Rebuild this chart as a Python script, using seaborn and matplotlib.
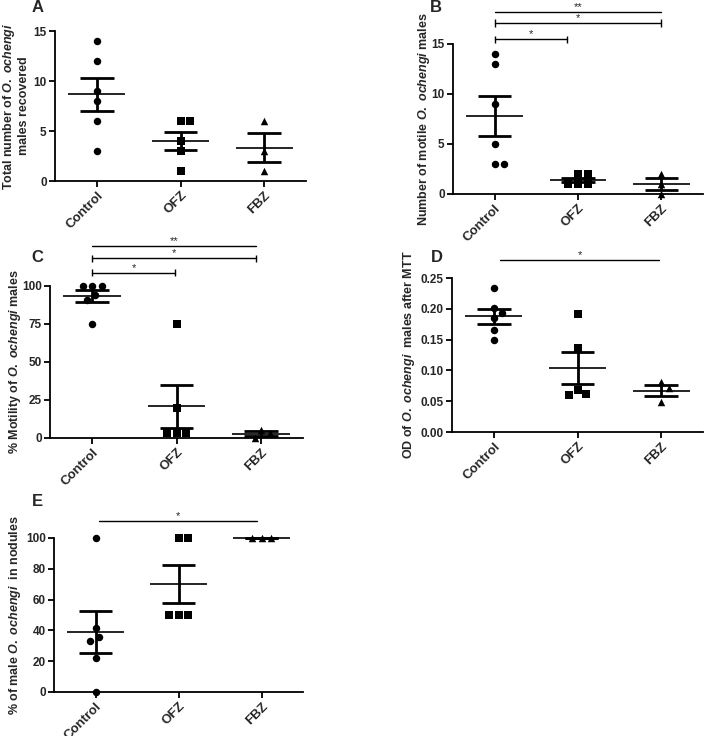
import matplotlib
matplotlib.use("Agg")
import matplotlib.pyplot as plt
import numpy as np
import pandas as pd
import seaborn as sns

sns.set_style("ticks")
plt.rcParams["font.family"] = ["Liberation Sans", "DejaVu Sans"]
plt.rcParams["font.weight"] = "bold"
plt.rcParams["mathtext.fontset"] = "custom"
plt.rcParams["mathtext.rm"] = "Liberation Sans:bold"
plt.rcParams["mathtext.it"] = "Liberation Sans:italic:bold"
plt.rcParams["mathtext.bf"] = "Liberation Sans:bold"

groups = ["Control", "OFZ", "FBZ"]
markers = ["o", "s", "^"]

# A: total number of males recovered
total_control = [14, 12, 9, 8, 6, 3]
total_ofz = [6, 6, 4, 3, 1]
total_fbz = [6, 3, 1]

# B: number of motile males
motile_control = [14, 13, 9, 5, 3, 3]
motile_ofz = [2, 2, 1, 1, 1]
motile_fbz = [2, 1, 0]

# C: % motility
motility_control = [100, 100, 100, 94, 91, 75]
motility_ofz = [75, 20, 3, 3, 3]
motility_fbz = [5, 3.5, 0]

# D: OD after MTT
od_control = [0.233, 0.201, 0.193, 0.185, 0.166, 0.149]
od_ofz = [0.191, 0.137, 0.068, 0.060, 0.062]
od_fbz = [0.081, 0.072, 0.049]

# E: % of males in nodules
nodule_control = [100, 41.7, 35.9, 33.3, 22.2, 0]
nodule_ofz = [100, 100, 50, 50, 50]
nodule_fbz = [100, 100, 100]

W, H = 705, 736
GAP_PX = 9.6  # minimum centre distance between neighbouring dots


def px_axes(fig, left, right, top, bottom):
    return fig.add_axes([left / W, 1 - bottom / H, (right - left) / W, (bottom - top) / H])


def swarm_offsets(values, unit_px):
    """GraphPadっぽく、近い値の点を横に並べる（ピクセル単位のオフセット）"""
    order = np.argsort(-np.asarray(values, dtype=float), kind="stable")
    ys = np.asarray(values, dtype=float) * unit_px
    placed = []
    offsets = np.zeros(len(values))
    for i in order:
        cands = [0.0]
        for (px, py) in placed:
            dy = abs(ys[i] - py)
            if dy < GAP_PX:
                dx = np.sqrt(GAP_PX ** 2 - dy ** 2)
                cands += [px + dx, px - dx]
        cands = sorted(cands, key=lambda c: (round(abs(c), 6), -c))
        for c in cands:
            if all(np.hypot(c - px, ys[i] - py) >= GAP_PX - 1e-6 for (px, py) in placed):
                offsets[i] = c
                placed.append((c, ys[i]))
                break
    return offsets


def plot_panel(ax, size_px, control, ofz, fbz, yticks, fmt, ylabel, label_x):
    w_px, h_px = size_px
    y_unit_px = h_px / (yticks[-1] - yticks[0])
    x_unit_px = w_px / 3.0
    for i, (grp, vals, mk) in enumerate(zip(groups, [control, ofz, fbz], markers)):
        xs = i + swarm_offsets(vals, y_unit_px) / x_unit_px
        df = pd.DataFrame({"x": xs, "value": vals})
        sns.scatterplot(data=df, x="x", y="value", marker=mk, color="black", s=29,
                        linewidth=0, ax=ax, clip_on=False, legend=False)

    df = pd.DataFrame({
        "group": ["Control"] * len(control) + ["OFZ"] * len(ofz) + ["FBZ"] * len(fbz),
        "value": control + ofz + fbz,
    })
    stats = df.groupby("group")["value"].agg(["mean", "sem"]).reindex(groups)
    x = np.arange(len(groups))
    lo = stats["mean"] - stats["sem"]
    hi = stats["mean"] + stats["sem"]
    ax.hlines(stats["mean"], x - 0.34, x + 0.34, color="black", lw=1.2, clip_on=False)
    ax.hlines(lo, x - 0.2, x + 0.2, color="black", lw=2.0, clip_on=False)
    ax.hlines(hi, x - 0.2, x + 0.2, color="black", lw=2.0, clip_on=False)
    ax.vlines(x, lo, hi, color="black", lw=2.0, clip_on=False)

    ax.set_xlim(-0.5, 2.5)
    ax.set_ylim(yticks[0], yticks[-1])
    ax.set_yticks(yticks)
    ax.set_yticklabels([fmt.format(t) for t in yticks], fontsize=8.5, fontweight="bold")
    ax.set_xticks(x)
    ax.set_xticklabels(groups, fontsize=9.5, fontweight="bold",
                       rotation=45, ha="right", rotation_mode="anchor")
    ax.set_xlabel("")
    ax.set_ylabel(ylabel, fontsize=9, fontweight="bold", linespacing=1.05)
    ax.yaxis.set_label_coords(label_x, 0.5)
    ax.tick_params(axis="both", length=4, width=1.3, color="black", pad=2)
    for side in ("left", "bottom"):
        ax.spines[side].set_linewidth(1.3)
        ax.spines[side].set_color("black")
    sns.despine(ax=ax)


def sig_bar(ax, x1, x2, y, text, tick=0.0):
    ax.plot([x1, x2], [y, y], color="black", lw=1.0, clip_on=False)
    if tick:
        ax.vlines([x1, x2], y - tick, y + tick, color="black", lw=1.0, clip_on=False)
    ax.annotate(text, xy=((x1 + x2) / 2, y), xytext=(0, 1.5), textcoords="offset points",
                ha="center", va="baseline", fontsize=8, fontweight="normal", annotation_clip=False)


fig = plt.figure(figsize=(W / 100, H / 100), dpi=100)

axA = px_axes(fig, 55, 306, 31, 181)
plot_panel(axA, (251, 150), total_control, total_ofz, total_fbz, [0, 5, 10, 15], "{:g}",
           "Total number of $\\mathit{O.\\ ochengi}$\nmales recovered", -0.1)

axB = px_axes(fig, 453, 703, 44, 194)
plot_panel(axB, (250, 150), motile_control, motile_ofz, motile_fbz, [0, 5, 10, 15], "{:g}",
           "Number of motile $\\mathit{O.\\ ochengi}$ males", -0.084)
sig_bar(axB, 0, 2, 18.2, "**")
sig_bar(axB, 0, 2, 17.1, "*", tick=0.35)
sig_bar(axB, 0, 0.87, 15.5, "*", tick=0.35)

axC = px_axes(fig, 50, 303, 286, 438)
plot_panel(axC, (253, 152), motility_control, motility_ofz, motility_fbz, [0, 25, 50, 75, 100],
           "{:g}", "% Motility of $\\mathit{O.\\ ochengi}$ males", -0.107)
sig_bar(axC, 0, 1.94, 126.3, "**")
sig_bar(axC, 0, 1.94, 118.4, "*", tick=2.3)
sig_bar(axC, 0, 0.98, 108.6, "*", tick=2.3)

axD = px_axes(fig, 452, 703, 278, 432)
plot_panel(axD, (251, 154), od_control, od_ofz, od_fbz, [0.0, 0.05, 0.10, 0.15, 0.20, 0.25],
           "{:.2f}", "OD of $\\mathit{O.\\ ochengi}$  males after MTT", -0.14)
sig_bar(axD, 0.07, 1.98, 0.279, "*")

axE = px_axes(fig, 54, 303, 538, 692)
plot_panel(axE, (249, 154), nodule_control, nodule_ofz, nodule_fbz, [0, 20, 40, 60, 80, 100],
           "{:g}", "% of male $\\mathit{O.\\ ochengi}$  in nodules", -0.125)
sig_bar(axE, 0.04, 1.95, 111, "*")

for letter, (lx, ly) in zip("ABCDE", [(38, 8), (436, 8), (37, 257), (437, 257), (37, 501)]):
    fig.text(lx / W, 1 - ly / H, letter, fontsize=12, fontweight="bold", ha="center", va="center")

fig.savefig("out.png", dpi=100)
